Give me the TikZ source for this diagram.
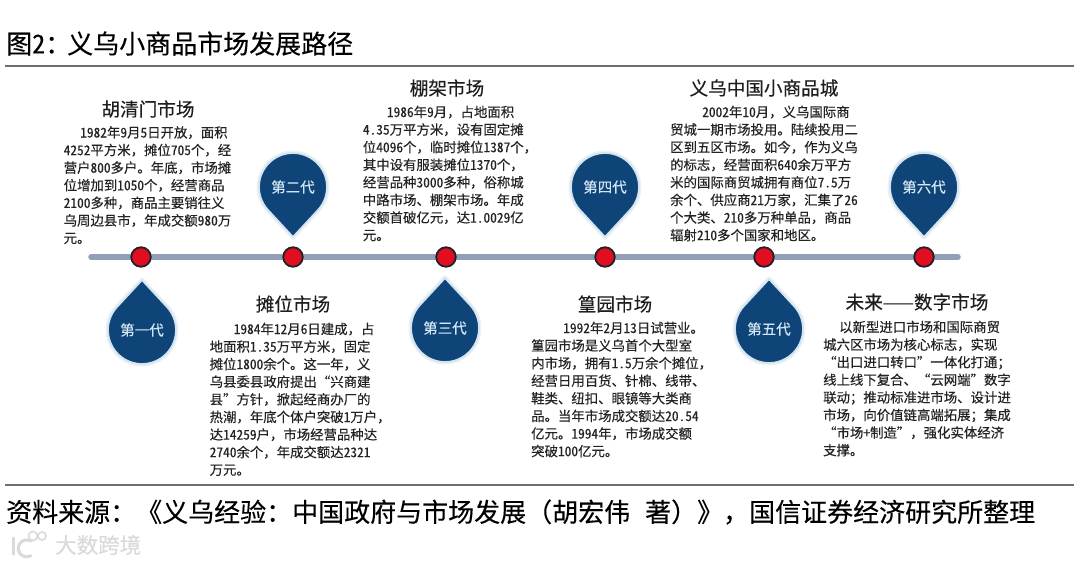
\documentclass[tikz,border=0pt]{standalone}
\usepackage{fontspec}
\setmainfont[FakeBold=0.25]{Noto Sans CJK SC}
\newfontfamily\hwfam[RawFeature=+hwid,FakeBold=0.25]{Noto Sans CJK SC}
\newfontfamily\fwfam[RawFeature=+fwid,FakeBold=0.25]{Noto Sans CJK SC}
\newcommand{\hn}[1]{{\hwfam #1}}
\newcommand{\oq}{{\fwfam “}}
\newcommand{\cq}{{\fwfam ”}}
\definecolor{ruleC}{HTML}{6E6E6E}
\definecolor{barC}{HTML}{8FA0B8}
\definecolor{dropC}{HTML}{0F4478}
\definecolor{rimC}{HTML}{D3E5F1}
\definecolor{haloC}{HTML}{EEF2F5}
\definecolor{labC}{HTML}{D2E5F2}
\definecolor{bodyC}{HTML}{232323}
\definecolor{headC}{HTML}{1E1E1E}
\definecolor{dotC}{HTML}{E00E1E}
\definecolor{dotE}{HTML}{20202A}
\definecolor{wmC}{HTML}{DADADA}
\tikzset{
  rulestyle/.style={draw=ruleC,line width=1.5pt},
  headline/.style={inner sep=0pt,text=black,font=\fontsize{26}{30}\selectfont},
  markethead/.style={inner sep=0pt,text=headC,font=\fontsize{18.6}{22}\selectfont},
  bodytext/.style={inner sep=0pt,anchor=north west,align=left,text=bodyC,font=\fontsize{13.4}{17.6}\selectfont},
  droplabel/.style={inner sep=0pt,text=labC,font=\fontsize{14.5}{17}\selectfont},
  dotstyle/.style={circle,draw=dotE,line width=1.8pt,fill=dotC,minimum size=19.5pt,inner sep=0pt},
  watermark/.style={inner sep=0pt,text=wmC,font=\fontsize{21.5}{24}\selectfont}
}
\newcommand{\dropshape}[5]{% name, x, y, tip angle, label
  \coordinate (#1c) at (#2,#3);
  \path[draw=haloC,line width=5pt,line join=round] (#1c) ++(#4+47.2:34pt) arc[start angle=#4+47.2,delta angle=265.6,radius=34pt] -- ([shift={(#4:50pt)}]#1c) -- cycle;
  \path[fill=dropC,draw=rimC,line width=1.8pt,line join=miter] (#1c) ++(#4+47.2:34pt) arc[start angle=#4+47.2,delta angle=265.6,radius=34pt] -- ([shift={(#4:50pt)}]#1c) -- cycle;
  \node[droplabel] (#1) at (#2,#3) {#5};
}
\begin{document}
\begin{tikzpicture}[x=1pt,y=-1pt]
\useasboundingbox (0,0) rectangle (1080,566);
\fill[white] (0,0) rectangle (1080,566);
% header & footer
\node[headline,anchor=west] (title) at (6,43.5) {图\hn{2}：\hspace*{-4pt}义乌小商品市场发展路径};
\coordinate (ruleTL) at (5,66); \coordinate (ruleTR) at (1074,66);
\draw[rulestyle] (ruleTL) -- (ruleTR);
\coordinate (ruleBL) at (5,485); \coordinate (ruleBR) at (1074,485);
\draw[rulestyle] (ruleBL) -- (ruleBR);
\node[headline,anchor=west] (source) at (6,512) {资料来源：《义乌经验：中国政府与市场发展（胡宏伟\hspace{15pt}著）》，国信证券经济研究所整理};
% timeline
\coordinate (barL) at (91,257); \coordinate (barR) at (958,257);
\draw[barC,line width=5.5pt,line cap=round] (barL) -- (barR);
\node[dotstyle] (d1) at (141,257) {};
\node[dotstyle] (d2) at (293,257) {};
\node[dotstyle] (d3) at (446,257) {};
\node[dotstyle] (d4) at (605,257) {};
\node[dotstyle] (d5) at (764,257) {};
\node[dotstyle] (d6) at (924,257) {};
% drops
\dropshape{g1}{142}{330}{90}{第一代}
\dropshape{g2}{293}{187}{-90}{第二代}
\dropshape{g3}{445}{328}{90}{第三代}
\dropshape{g4}{605}{187}{-90}{第四代}
\dropshape{g5}{769}{329}{90}{第五代}
\dropshape{g6}{924}{187}{-90}{第六代}
% market titles
\node[markethead] (h1) at (148,109) {胡清门市场};
\node[markethead] (h2) at (293,304) {摊位市场};
\node[markethead] (h3) at (447,88) {棚架市场};
\node[markethead] (h4) at (764,88) {义乌中国小商品城};
\node[markethead] (h5) at (615,304) {篁园市场};
\node[markethead] (h6) at (917,302) {未来——数字市场};
% bodies
\node[bodytext] (b1) at (63.5,126) {\hspace*{16.5pt}\hn{1982}年\hn{9}月\hn{5}日开放，面积\\\hn{4252}平方米，摊位\hn{705}个，经\\营户\hn{800}多户。年底，市场摊\\位增加到\hn{1050}个，经营商品\\\hn{2100}多种，商品主要销往义\\乌周边县市，年成交额\hn{980}万\\元。};
\node[bodytext] (b2) at (209.5,322.5) {\hspace*{24pt}\hn{1984}年\hn{12}月\hn{6}日建成，占\\地面积\hn{1.35}万平方米，固定\\摊位\hn{1800}余个。这一年，义\\乌县委县政府提出\oq 兴商建\\县\cq 方针，掀起经商办厂的\\热潮，年底个体户突破\hn{1}万户，\\达\hn{14259}户，市场经营品种达\\\hn{2740}余个，年成交额达\hn{2321}\\万元。};
\node[bodytext] (b3) at (362.7,105.5) {\hspace*{24pt}\hn{1986}年\hn{9}月，占地面积\\\hn{4.35}万平方米，设有固定摊\\位\hn{4096}个，临时摊位\hn{1387}个，\\其中设有服装摊位\hn{1370}个，\\经营品种\hn{3000}多种，俗称城\\中路市场、棚架市场。年成\\交额首破亿元，达\hn{1.0029}亿\\元。};
\node[bodytext] (b4) at (670,105.5) {\hspace*{32pt}\hn{2002}年\hn{10}月，义乌国际商\\贸城一期市场投用。陆续投用二\\区到五区市场。如今，作为义乌\\的标志，经营面积\hn{640}余万平方\\米的国际商贸城拥有商位\hn{7.5}万\\余个、供应商\hn{21}万家，汇集了\hn{26}\\个大类、\hn{210}多万种单品，商品\\辐射\hn{210}多个国家和地区。};
\node[bodytext] (b5) at (531,321.5) {\hspace*{32pt}\hn{1992}年\hn{2}月\hn{13}日试营业。\\篁园市场是义乌首个大型室\\内市场，拥有\hn{1.5}万余个摊位，\\经营日用百货、针棉、线带、\\鞋类、纽扣、眼镜等大类商\\品。当年市场成交额达\hn{20.54}\\亿元。\hn{1994}年，市场成交额\\突破\hn{100}亿元。};
\node[bodytext] (b6) at (823,320.5) {\hspace*{16pt}以新型进口市场和国际商贸\\城六区市场为核心标志，实现\\\oq 出口进口转口\cq 一体化打通；\\线上线下复合、\oq 云网端\cq 数字\\联动；推动标准进市场、设计进\\市场，向价值链高端拓展；集成\\\oq 市场\hn{+}制造\cq ，强化实体经济\\支撑。};
% watermark
\node[watermark,anchor=west] (wm) at (55,545) {大数跨境};
\coordinate (wa) at (13,538); \coordinate (wb) at (13,554);
\draw[wmC,line width=3pt,line cap=round] (wa) -- (wb);
\draw[wmC,line width=3pt,line cap=round] (31,541) arc[start angle=60,end angle=300,radius=8.5pt];
\node[circle,draw=wmC,line width=1.6pt,minimum size=9pt,inner sep=0pt] (wc1) at (33,536) {};
\node[circle,draw=wmC,line width=1.6pt,minimum size=8pt,inner sep=0pt] (wc2) at (42,536) {};
\end{tikzpicture}
\end{document}
